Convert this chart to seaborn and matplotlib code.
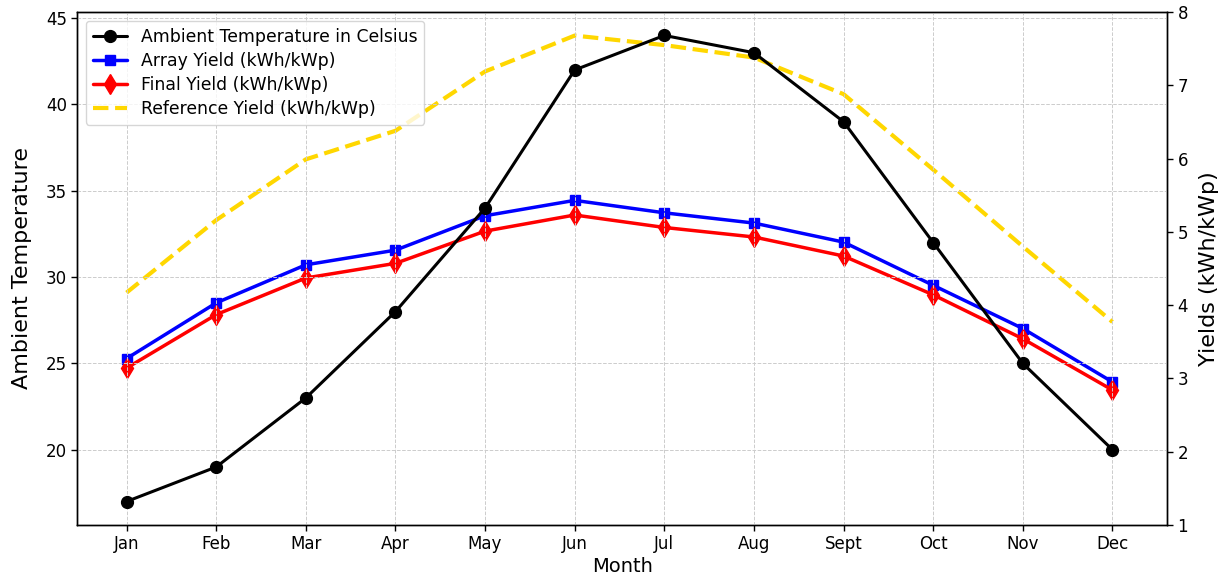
import matplotlib
matplotlib.use("Agg")
import matplotlib.pyplot as plt
import seaborn as sns
import numpy as np

months = ["Jan", "Feb", "Mar", "Apr", "May", "Jun", "Jul", "Aug", "Sept", "Oct", "Nov", "Dec"]
ambient_temp = [17, 19, 23, 28, 34, 42, 44, 43, 39, 32, 25, 20]
array_yield = [3.27, 4.03, 4.55, 4.75, 5.22, 5.43, 5.26, 5.12, 4.86, 4.27, 3.68, 2.95]
final_yield = [3.14, 3.87, 4.37, 4.57, 5.01, 5.23, 5.06, 4.93, 4.67, 4.14, 3.54, 2.84]
reference_yield = [4.17, 5.16, 5.99, 6.38, 7.19, 7.68, 7.55, 7.38, 6.88, 5.85, 4.80, 3.77]

sns.set_style("white")
plt.rcParams['font.family'] = ['DejaVu Sans']
plt.rcParams['text.color'] = 'black'
plt.rcParams['axes.labelcolor'] = 'black'
plt.rcParams['xtick.color'] = 'black'
plt.rcParams['ytick.color'] = 'black'

x = np.arange(len(months))

fig = plt.figure(figsize=(12.26, 5.78), dpi=100)
ax1 = fig.add_axes([0.063, 0.092, 0.889, 0.887])
ax2 = ax1.twinx()

sns.lineplot(x=x, y=ambient_temp, ax=ax1, color="black", marker="o", markersize=8.5,
             linewidth=2.2, markeredgecolor="black", markeredgewidth=1,
             label="Ambient Temperature in Celsius", legend=False)
sns.lineplot(x=x, y=array_yield, ax=ax2, color="blue", marker="s", markersize=7.5,
             linewidth=2.5, markeredgecolor="blue", markeredgewidth=1,
             label="Array Yield (kWh/kWp)", legend=False)
sns.lineplot(x=x, y=final_yield, ax=ax2, color="red", marker="d", markersize=10,
             linewidth=2.5, markeredgecolor="red", markeredgewidth=1,
             label="Final Yield (kWh/kWp)", legend=False)
sns.lineplot(x=x, y=reference_yield, ax=ax2, color="gold", linestyle="--",
             linewidth=3, label="Reference Yield (kWh/kWp)", legend=False)

ax1.set_xticks(x)
ax1.set_xticklabels(months, fontsize=12)
ax1.set_xlim(-0.55, 11.61)
ax1.set_ylim(15.65, 45.35)
ax1.set_yticks([20, 25, 30, 35, 40, 45])
ax2.set_ylim(1, 8)
ax2.set_yticks(range(1, 9))
ax1.tick_params(axis="both", labelsize=12, length=4, width=1, direction="out", left=True, bottom=True)
ax2.tick_params(axis="y", labelsize=12, length=4, width=1, right=True)

ax1.set_xlabel("Month", fontsize=14, labelpad=3)
ax1.set_ylabel("Ambient Temperature", fontsize=16, labelpad=10)
ax2.set_ylabel("Yields (kWh/kWp)", fontsize=16, labelpad=8)

ax1.grid(True, linestyle="--", linewidth=0.7, color="#cccccc")
ax2.grid(False)
for ax in (ax1, ax2):
    for s in ax.spines.values():
        s.set_color("black")
        s.set_linewidth(1.0)

h1, lab1 = ax1.get_legend_handles_labels()
h2, lab2 = ax2.get_legend_handles_labels()
ax1.legend(h1 + h2, lab1 + lab2, loc="upper left", fontsize=12.4, frameon=True,
           handlelength=2.0, borderpad=0.4, labelspacing=0.35)
ax1.set_zorder(ax2.get_zorder() + 1)
ax1.patch.set_visible(False)

fig.savefig("out.png", dpi=100)
